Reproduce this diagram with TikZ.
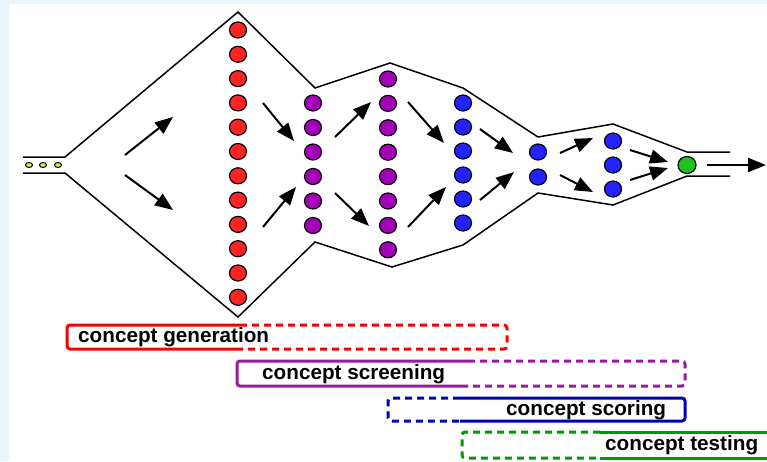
\documentclass[tikz,border=0pt]{standalone}
\usepackage{fontspec}
\setmainfont{Liberation Sans}
\usetikzlibrary{arrows.meta,shapes.geometric}
\definecolor{framebg}{RGB}{234,244,255}
\definecolor{genred}{RGB}{245,0,0}
\definecolor{scrpurple}{RGB}{155,25,160}
\definecolor{scoblue}{RGB}{0,0,185}
\definecolor{tstgreen}{RGB}{0,155,0}
\definecolor{dotred}{RGB}{255,35,35}
\definecolor{dotpurple}{RGB}{165,0,185}
\definecolor{dotblue}{RGB}{35,35,255}
\definecolor{dotgreen}{RGB}{30,195,30}
\definecolor{dotyellow}{RGB}{205,240,60}
\tikzset{
  idea/.style={ellipse,draw=black,line width=1.2pt,inner sep=0pt,
    minimum width=17pt,minimum height=16pt},
  seed/.style={ellipse,draw=black,line width=1pt,inner sep=0pt,fill=dotyellow,
    minimum width=7pt,minimum height=5pt},
  arr/.style={line width=2pt,-{Triangle[length=18pt,width=14pt]}},
  funnel/.style={line width=1.5pt},
  bar/.style={line width=3pt,rounded corners=3pt},
  dashbar/.style={bar,dash pattern=on 7pt off 5pt},
  barlab/.style={anchor=base west,inner sep=0pt,
    font=\fontsize{20.7}{24}\selectfont\bfseries}
}
\begin{document}
\begin{tikzpicture}[x=1pt,y=-1pt]
\useasboundingbox (0,0) rectangle (767,461);
\clip (0,0) rectangle (767,461);
\fill[framebg] (0,0) rectangle (767,461);
\fill[white] (9,4) rectangle (767,461);
% funnel outline
\draw[funnel] (23,157) -- (65,157) -- (238,12) -- (315,88) -- (390,63) -- (463,88)
  -- (538,137) -- (613,124) -- (687,152) -- (730,152);
\draw[funnel] (23,173) -- (65,173) -- (238,317) -- (315,242) -- (392,267) -- (463,245)
  -- (538,193) -- (613,205) -- (687,176) -- (730,176);
% ideas
\node[seed] (s1) at (29,165) {};
\node[seed] (s2) at (43,165) {};
\node[seed] (s3) at (58,165) {};
\foreach \i in {0,...,11}
  \node[idea,fill=dotred] (r\i) at (238,30+24.3*\i) {};
\foreach \i in {0,...,5}
  \node[idea,fill=dotpurple] (p\i) at (313,103+24.5*\i) {};
\foreach \i in {0,...,7}
  \node[idea,fill=dotpurple] (q\i) at (388,79+24.4*\i) {};
\foreach \i in {0,...,5}
  \node[idea,fill=dotblue] (b\i) at (463,103+24*\i) {};
\node[idea,fill=dotblue] (c0) at (538,152) {};
\node[idea,fill=dotblue] (c1) at (538,177) {};
\node[idea,fill=dotblue] (d0) at (613,141) {};
\node[idea,fill=dotblue] (d1) at (613,165) {};
\node[idea,fill=dotblue] (d2) at (613,189) {};
\node[idea,fill=dotgreen,minimum width=18pt,minimum height=17pt] (win) at (687,165) {};
% arrows
\draw[arr] (125,155) -- (173,117);
\draw[arr] (125,175) -- (173,210);
\draw[arr] (263,103) -- (294,141);
\draw[arr] (263,227) -- (296,187);
\draw[arr] (335,137) -- (371,102);
\draw[arr] (335,193) -- (369,226);
\draw[arr] (408,102) -- (444,143);
\draw[arr] (408,227) -- (446,187);
\draw[arr] (480,129) -- (513,153);
\draw[arr] (480,200) -- (514,172);
\draw[arr] (560,153) -- (593,138);
\draw[arr] (560,175) -- (593,192);
\draw[arr] (630,150) -- (668,162);
\draw[arr] (630,180) -- (668,168);
\draw[arr] (win.east) ++(10,0) -- (766,165);
% stages
\draw[bar,genred] (240,325) -- (67,325) -- (67,349) -- (240,349);
\draw[dashbar,genred] (240,325) -- (507,325) -- (507,349) -- (240,349);
\node[barlab] (gen) at (78,342) {concept generation};
\draw[bar,scrpurple] (468,361) -- (237,361) -- (237,386) -- (468,386);
\draw[dashbar,scrpurple] (468,361) -- (685,361) -- (685,386) -- (468,386);
\node[barlab] (scr) at (262,379) {concept screening};
\draw[dashbar,scoblue] (460,398) -- (388,398) -- (388,421) -- (460,421);
\draw[bar,scoblue] (460,398) -- (685,398) -- (685,421) -- (460,421);
\node[barlab] (sco) at (506,415) {concept scoring};
\draw[dashbar,tstgreen] (600,432) -- (462,432) -- (462,458) -- (600,458);
\draw[bar,tstgreen] (600,432) -- (775,432);
\draw[bar,tstgreen] (600,458) -- (775,458);
\node[barlab] (tst) at (605,450) {concept testing};
\end{tikzpicture}
\end{document}
